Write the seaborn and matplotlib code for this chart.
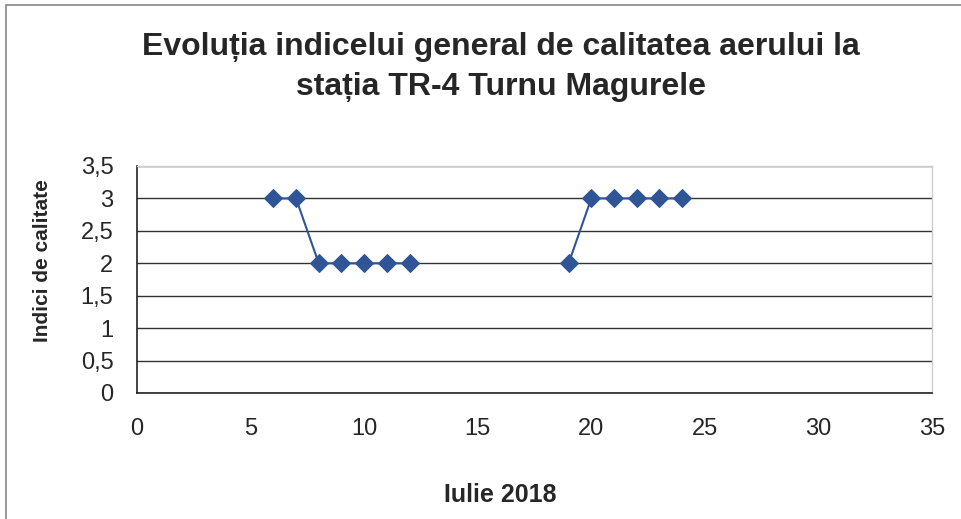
import numpy as np
import pandas as pd
import seaborn as sns
import matplotlib.pyplot as plt
from matplotlib.patches import Rectangle

# Data (days of July 2018, air quality index)
zile_1 = [6, 7, 8, 9, 10, 11, 12]
indici_1 = [3, 3, 2, 2, 2, 2, 2]
zile_2 = [19, 20, 21, 22, 23, 24]
indici_2 = [2, 3, 3, 3, 3, 3]

y_ticks = [0, 0.5, 1, 1.5, 2, 2.5, 3, 3.5]
y_labels = ['0', '0,5', '1', '1,5', '2', '2,5', '3', '3,5']
x_ticks = [0, 5, 10, 15, 20, 25, 30, 35]

df = pd.concat([
    pd.DataFrame({'zi': zile_1, 'indice': indici_1, 'segment': 'a'}),
    pd.DataFrame({'zi': zile_2, 'indice': indici_2, 'segment': 'b'}),
])

sns.set_style('white')
plt.rcParams['font.family'] = ['Liberation Sans', 'DejaVu Sans']

fig = plt.figure(figsize=(9.62, 5.19), dpi=100)
ax = fig.add_axes([0.1424, 0.2428, 0.8265, 0.4374])

blue = '#2f5597'
sns.lineplot(data=df, x='zi', y='indice', units='segment', estimator=None,
             color=blue, marker='D', markersize=9, markeredgecolor=blue,
             linewidth=1.5, ax=ax)

ax.set_xlim(0, 35)
ax.set_ylim(0, 3.5)
ax.set_xticks(x_ticks)
ax.set_xticklabels([str(t) for t in x_ticks], fontsize=17)
ax.set_yticks(y_ticks)
ax.set_yticklabels(y_labels, fontsize=17)
ax.yaxis.grid(True, color='#333333', linewidth=1.0)
ax.set_axisbelow(True)

for side in ['top', 'right']:
    ax.spines[side].set_color('#cccccc')
    ax.spines[side].set_linewidth(1.0)
for side in ['left', 'bottom']:
    ax.spines[side].set_color('#222222')
    ax.spines[side].set_linewidth(1.2)

ax.tick_params(axis='both', direction='out', length=6, width=1.0,
               color='#222222')
ax.tick_params(axis='x', pad=12)
ax.tick_params(axis='y', pad=11)

ax.set_xlabel('')
ax.set_ylabel('')
fig.text(0.52, 0.046, 'Iulie 2018', ha='center', va='center',
         fontsize=18, fontweight='bold')
fig.text(0.0437, 0.497, 'Indici de calitate', ha='center', va='center',
         rotation=90, fontsize=15, fontweight='bold')

fig.text(0.521, 0.9094, 'Evoluția indicelui general de calitatea aerului la',
         ha='center', va='center', fontsize=23, fontweight='bold')
fig.text(0.521, 0.8324, 'stația TR-4 Turnu Magurele',
         ha='center', va='center', fontsize=23, fontweight='bold')

fig.patches.append(Rectangle((0.006, -0.02), 1.1, 1.01, transform=fig.transFigure,
                             fill=False, edgecolor='#888888', linewidth=1.2))

plt.savefig('out.png', dpi=100)
